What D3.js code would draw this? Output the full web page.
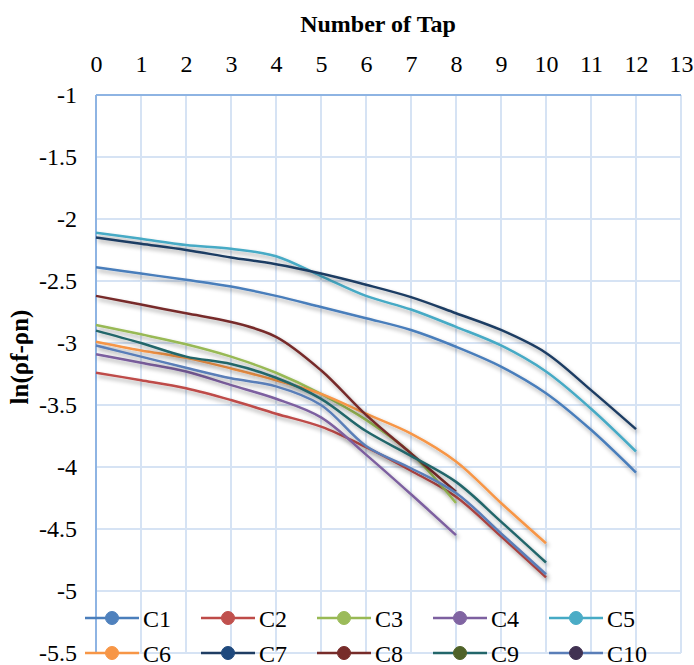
<!DOCTYPE html>
<html>
<head>
<meta charset="utf-8">
<script src="https://cdn.jsdelivr.net/npm/d3@7"></script>
<style>
  html, body { margin: 0; padding: 0; background: #fff; }
  svg { display: block; }
  svg text { font-family: "Liberation Serif", "Times New Roman", Times, "DejaVu Serif", serif; }
</style>
</head>
<body>
<svg id="chart" width="694" height="665"></svg>
<script>
// taps read along x
const taps = [0, 1, 2, 3, 4, 5, 6, 7, 8, 9, 10, 11, 12];
const xTicks = d3.range(0, 14);
const yTicks = [-1, -1.5, -2, -2.5, -3, -3.5, -4, -4.5, -5, -5.5];

const seriesNames = ["C1", "C2", "C3", "C4", "C5", "C6", "C7", "C8", "C9", "C10"];
const markerColors = ["#4F81BD", "#C0504D", "#9BBB59", "#8064A2", "#4BACC6", "#F79646", "#1F497D", "#772C2A", "#4F6228", "#403152"];
const lineColors = ["#4A7EBB", "#BE4B48", "#98B954", "#7D60A0", "#46AAC5", "#F79646", "#1F3D63", "#772C2A", "#22666A", "#5A7EB8"];

const c1 = [-2.39, -2.44, -2.49, -2.545, -2.62, -2.71, -2.80, -2.895, -3.03, -3.19, -3.405, -3.70, -4.045];
const c2 = [-3.24, -3.30, -3.365, -3.46, -3.57, -3.675, -3.84, -4.03, -4.24, -4.56, -4.89];
const c3 = [-2.855, -2.93, -3.01, -3.11, -3.24, -3.41, -3.62, -3.89, -4.29];
const c4 = [-3.09, -3.16, -3.23, -3.34, -3.45, -3.60, -3.90, -4.22, -4.55];
const c5 = [-2.11, -2.16, -2.21, -2.24, -2.30, -2.46, -2.62, -2.73, -2.87, -3.02, -3.23, -3.53, -3.875];
const c6 = [-2.99, -3.06, -3.12, -3.205, -3.30, -3.41, -3.57, -3.73, -3.955, -4.29, -4.615];
const c7 = [-2.15, -2.20, -2.25, -2.31, -2.365, -2.44, -2.53, -2.63, -2.76, -2.895, -3.08, -3.38, -3.695];
const c8 = [-2.62, -2.69, -2.76, -2.83, -2.95, -3.22, -3.58, -3.89, -4.20];
const c9 = [-2.90, -3.00, -3.11, -3.17, -3.28, -3.45, -3.71, -3.91, -4.12, -4.44, -4.77];
const c10 = [-3.02, -3.11, -3.20, -3.285, -3.35, -3.50, -3.83, -4.01, -4.21, -4.535, -4.865];
const seriesValues = [c1, c2, c3, c4, c5, c6, c7, c8, c9, c10];

const svg = d3.select("#chart");
const x = d3.scaleLinear().domain([0, 13]).range([96, 681]);
const y = d3.scaleLinear().domain([-1, -5.5]).range([95, 653]);

// shadow under the lines
const defs = svg.append("defs");
const f = defs.append("filter").attr("id", "shadow")
  .attr("x", "-10%").attr("y", "-10%").attr("width", "130%").attr("height", "140%");
f.append("feDropShadow")
  .attr("dx", 2).attr("dy", 3).attr("stdDeviation", 2)
  .attr("flood-color", "#000").attr("flood-opacity", 0.35);

// grid
const grid = svg.append("g");
grid.selectAll(".vg").data(xTicks.slice(1)).enter().append("line")
  .attr("x1", d => x(d)).attr("x2", d => x(d))
  .attr("y1", y(-1)).attr("y2", y(-5.5))
  .attr("stroke", "#D6E3F4").attr("stroke-width", 2);
grid.selectAll(".hg").data(yTicks.slice(1)).enter().append("line")
  .attr("x1", x(0)).attr("x2", x(13))
  .attr("y1", d => y(d)).attr("y2", d => y(d))
  .attr("stroke", "#D6E3F4").attr("stroke-width", 2);

// axis lines
svg.append("line").attr("x1", x(0)).attr("x2", x(13)).attr("y1", y(-1)).attr("y2", y(-1))
  .attr("stroke", "#8EB4E3").attr("stroke-width", 2);
svg.append("line").attr("x1", x(0)).attr("x2", x(0)).attr("y1", y(-1)).attr("y2", y(-5.5))
  .attr("stroke", "#8EB4E3").attr("stroke-width", 2);

// tick labels
const xAxis = svg.append("g").attr("transform", `translate(0,${y(-1) - 20})`)
  .call(d3.axisTop(x).tickValues(xTicks).tickSize(0).tickFormat(d => String(d)));
xAxis.attr("font-family", null);
xAxis.select(".domain").remove();
xAxis.selectAll("text").attr("font-size", 24).attr("fill", "#000");

const yAxis = svg.append("g").attr("transform", `translate(${x(0) - 16},0)`)
  .call(d3.axisLeft(y).tickValues(yTicks).tickSize(0).tickFormat(d => String(d)));
yAxis.attr("font-family", null);
yAxis.select(".domain").remove();
yAxis.selectAll("text").attr("font-size", 24).attr("fill", "#000");

// titles
svg.append("text").attr("x", 378).attr("y", 32).attr("text-anchor", "middle")
  .attr("font-size", 24).attr("font-weight", "bold").text("Number of Tap");
svg.append("text").attr("transform", "translate(28,357) rotate(-90)").attr("text-anchor", "middle")
  .attr("font-size", 25).attr("font-weight", "bold").text("ln(ρf-ρn)");

// lines
const line = d3.line()
  .x((d, i) => x(taps[i]))
  .y(d => y(d))
  .curve(d3.curveCatmullRom.alpha(0.5));

svg.append("g").selectAll("path").data(seriesValues).enter().append("path")
  .attr("d", d => line(d))
  .attr("fill", "none")
  .attr("stroke", (d, i) => lineColors[i])
  .attr("stroke-width", 2.5)
  .attr("filter", "url(#shadow)");

// legend
const legend = svg.append("g");
const item = legend.selectAll("g").data(seriesNames).enter().append("g")
  .attr("transform", (d, i) => `translate(${85 + (i % 5) * 116},${i < 5 ? 618 : 653})`);
item.append("line").attr("x1", 0).attr("x2", 54).attr("y1", 0).attr("y2", 0)
  .attr("stroke", (d, i) => lineColors[i]).attr("stroke-width", 2.5);
item.append("circle").attr("cx", 27).attr("cy", 0).attr("r", 6.5)
  .attr("fill", (d, i) => markerColors[i]).attr("stroke", (d, i) => markerColors[i]);
item.append("text").attr("x", 58).attr("y", 8.5).attr("font-size", 24).text(d => d);
</script>
</body>
</html>
